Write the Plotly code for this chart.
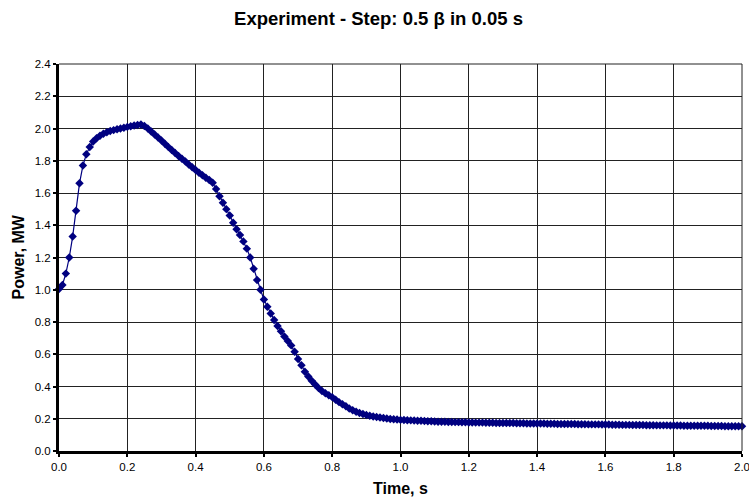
import plotly.graph_objects as go

time_s = [
    0.00, 0.01, 0.02, 0.03, 0.04, 0.05, 0.06, 0.07, 0.08, 0.09,
    0.10, 0.11, 0.12, 0.13, 0.14, 0.15, 0.16, 0.17, 0.18, 0.19,
    0.20, 0.21, 0.22, 0.23, 0.24, 0.25, 0.26, 0.27, 0.28, 0.29,
    0.30, 0.31, 0.32, 0.33, 0.34, 0.35, 0.36, 0.37, 0.38, 0.39,
    0.40, 0.41, 0.42, 0.43, 0.44, 0.45, 0.46, 0.47, 0.48, 0.49,
    0.50, 0.51, 0.52, 0.53, 0.54, 0.55, 0.56, 0.57, 0.58, 0.59,
    0.60, 0.61, 0.62, 0.63, 0.64, 0.65, 0.66, 0.67, 0.68, 0.69,
    0.70, 0.71, 0.72, 0.73, 0.74, 0.75, 0.76, 0.77, 0.78, 0.79,
    0.80, 0.81, 0.82, 0.83, 0.84, 0.85, 0.86, 0.87, 0.88, 0.89,
    0.90, 0.91, 0.92, 0.93, 0.94, 0.95, 0.96, 0.97, 0.98, 0.99,
    1.00, 1.01, 1.02, 1.03, 1.04, 1.05, 1.06, 1.07, 1.08, 1.09,
    1.10, 1.11, 1.12, 1.13, 1.14, 1.15, 1.16, 1.17, 1.18, 1.19,
    1.20, 1.21, 1.22, 1.23, 1.24, 1.25, 1.26, 1.27, 1.28, 1.29,
    1.30, 1.31, 1.32, 1.33, 1.34, 1.35, 1.36, 1.37, 1.38, 1.39,
    1.40, 1.41, 1.42, 1.43, 1.44, 1.45, 1.46, 1.47, 1.48, 1.49,
    1.50, 1.51, 1.52, 1.53, 1.54, 1.55, 1.56, 1.57, 1.58, 1.59,
    1.60, 1.61, 1.62, 1.63, 1.64, 1.65, 1.66, 1.67, 1.68, 1.69,
    1.70, 1.71, 1.72, 1.73, 1.74, 1.75, 1.76, 1.77, 1.78, 1.79,
    1.80, 1.81, 1.82, 1.83, 1.84, 1.85, 1.86, 1.87, 1.88, 1.89,
    1.90, 1.91, 1.92, 1.93, 1.94, 1.95, 1.96, 1.97, 1.98, 1.99,
    2.00,
]

power_mw = [
    1.005, 1.03, 1.10, 1.20, 1.33, 1.49, 1.66, 1.77, 1.84, 1.885,
    1.92, 1.94, 1.955, 1.967, 1.977, 1.984, 1.99, 1.995, 2.0, 2.005,
    2.01, 2.014, 2.018, 2.022, 2.025, 2.015, 2.0, 1.982, 1.963, 1.944,
    1.925, 1.905, 1.886, 1.867, 1.848, 1.83, 1.812, 1.795, 1.777, 1.76,
    1.742, 1.726, 1.71, 1.695, 1.68, 1.663, 1.625, 1.58, 1.54, 1.50,
    1.46, 1.415, 1.375, 1.34, 1.30, 1.255, 1.20, 1.13, 1.06, 1.00,
    0.94, 0.895, 0.853, 0.812, 0.775, 0.742, 0.71, 0.682, 0.655, 0.615,
    0.57, 0.532, 0.492, 0.462, 0.436, 0.412, 0.39, 0.372, 0.358, 0.346,
    0.334, 0.318, 0.303, 0.29, 0.277, 0.264, 0.253, 0.244, 0.236, 0.229,
    0.223, 0.218, 0.214, 0.211, 0.208, 0.205, 0.202, 0.199, 0.197, 0.195,
    0.193, 0.192, 0.191, 0.19, 0.189, 0.188, 0.187, 0.186, 0.185, 0.184,
    0.183, 0.182, 0.181, 0.181, 0.18, 0.18, 0.179, 0.179, 0.178, 0.178,
    0.177, 0.177, 0.176, 0.176, 0.176, 0.175, 0.175, 0.175, 0.174, 0.174,
    0.174, 0.173, 0.173, 0.173, 0.172, 0.172, 0.172, 0.171, 0.171, 0.171,
    0.170, 0.170, 0.170, 0.169, 0.169, 0.169, 0.168, 0.168, 0.168, 0.167,
    0.167, 0.167, 0.166, 0.166, 0.166, 0.165, 0.165, 0.165, 0.165, 0.164,
    0.164, 0.164, 0.163, 0.163, 0.163, 0.162, 0.162, 0.162, 0.161, 0.161,
    0.161, 0.161, 0.160, 0.160, 0.160, 0.159, 0.159, 0.159, 0.159, 0.158,
    0.158, 0.158, 0.158, 0.157, 0.157, 0.157, 0.157, 0.156, 0.156, 0.156,
    0.156, 0.155, 0.155, 0.155, 0.155, 0.154, 0.154, 0.154, 0.154, 0.153,
    0.153,
]

x_ticks = [0.0, 0.2, 0.4, 0.6, 0.8, 1.0, 1.2, 1.4, 1.6, 1.8, 2.0]
y_ticks = [0.0, 0.2, 0.4, 0.6, 0.8, 1.0, 1.2, 1.4, 1.6, 1.8, 2.0, 2.2, 2.4]

FONT = "Liberation Sans, Arial, sans-serif"
NAVY = "#000080"
W, H = 749, 498
ML, MR, MT, MB = 59, 7, 64, 47

fig = go.Figure()
fig.add_trace(go.Scatter(
    x=time_s, y=power_mw, mode="lines+markers",
    line=dict(color=NAVY, width=1.2),
    marker=dict(symbol="diamond", size=6.5, color=NAVY, line=dict(width=0)),
    showlegend=False, cliponaxis=False,
))

fig.update_layout(
    width=W, height=H,
    paper_bgcolor="white", plot_bgcolor="white",
    margin=dict(l=ML, r=MR, t=MT, b=MB, autoexpand=False),
    title=dict(text="<b>Experiment - Step: 0.5 β in 0.05 s</b>",
               x=(378.5 / W), xanchor="center", xref="container",
               y=1 - 19 / H, yanchor="middle", yref="container",
               font=dict(family=FONT, size=18.5, color="black")),
    font=dict(family=FONT, color="black"),
)

axis_common = dict(
    showgrid=True, gridcolor="#222", gridwidth=1,
    showline=True, linecolor="black", linewidth=3,
    ticks="outside", ticklen=3, tickwidth=2, tickcolor="black",
    tickfont=dict(family=FONT, size=11.5, color="black"),
    tickformat=".1f", zeroline=False, automargin=False,
    ticklabeloverflow="allow",
)
fig.update_xaxes(range=[0, 2.0], tickvals=x_ticks, **axis_common)
fig.update_yaxes(range=[0, 2.4], tickvals=y_ticks, **axis_common)

# axis titles
fig.add_annotation(text="<b>Time, s</b>", xref="paper", yref="paper",
                   x=0.5, y=-(488 - (H - MB)) / (H - MT - MB),
                   xanchor="center", yanchor="middle", showarrow=False,
                   font=dict(family=FONT, size=16, color="black"))
fig.add_annotation(text="<b>Power, MW</b>", xref="paper", yref="paper",
                   x=-(ML - 18) / (W - ML - MR), y=0.5, textangle=-90,
                   xanchor="center", yanchor="middle", showarrow=False,
                   font=dict(family=FONT, size=16, color="black"))

# thin border on top and right edges
fig.add_shape(type="line", xref="paper", yref="paper", x0=0, x1=1, y0=1, y1=1,
              line=dict(color="#222", width=1))
fig.add_shape(type="line", xref="paper", yref="paper", x0=1, x1=1, y0=0, y1=1,
              line=dict(color="#222", width=1))

fig.write_html("out.html",
               config=dict(displayModeBar=False),
               post_script="document.body.style.margin='0px';document.body.style.overflow='hidden';")
